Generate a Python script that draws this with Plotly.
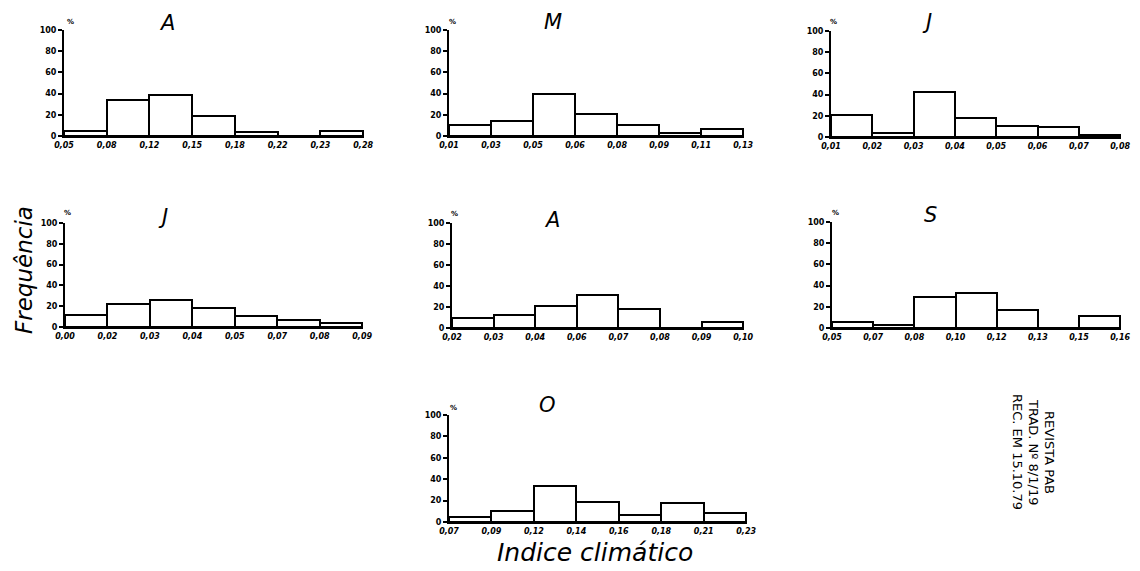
import plotly.graph_objects as go

# page has an 8px body margin: draw on a slightly smaller canvas and offset
OFF = 8
W, H = 1140 - OFF, 571 - OFF

# ---- data (frequency %, per class of the climatic index) ----
month_titles = ["A", "M", "J", "J", "A", "S", "O"]

abr_edges = ["0,05", "0,08", "0,12", "0,15", "0,18", "0,22", "0,23", "0,28"]
abr_freq = [5, 34, 39, 19, 4, 0, 5]

mai_edges = ["0,01", "0,03", "0,05", "0,06", "0,08", "0,09", "0,11", "0,13"]
mai_freq = [10, 14, 40, 21, 10, 3, 7]

jun_edges = ["0,01", "0,02", "0,03", "0,04", "0,05", "0,06", "0,07", "0,08"]
jun_freq = [21, 4, 42, 18, 10, 9, 2]

jul_edges = ["0,00", "0,02", "0,03", "0,04", "0,05", "0,07", "0,08", "0,09"]
jul_freq = [12, 22, 26, 18, 11, 7, 4]

ago_edges = ["0,02", "0,03", "0,04", "0,06", "0,07", "0,08", "0,09", "0,10"]
ago_freq = [10, 12, 21, 31, 18, 0, 6]

set_edges = ["0,05", "0,07", "0,08", "0,10", "0,12", "0,13", "0,15", "0,16"]
set_freq = [6, 3, 29, 33, 17, 0, 11]

out_edges = ["0,07", "0,09", "0,12", "0,14", "0,16", "0,18", "0,21", "0,23"]
out_freq = [5, 10, 34, 19, 7, 18, 8]

y_ticks = [0, 20, 40, 60, 80, 100]

panels_edges = [abr_edges, mai_edges, jun_edges, jul_edges, ago_edges, set_edges, out_edges]
panels_freq = [abr_freq, mai_freq, jun_freq, jul_freq, ago_freq, set_freq, out_freq]

# ---- layout geometry in screen pixels (left, right, top(100%), bottom(0%)) ----
boxes = [
    (64, 364, 30, 136),
    (449, 744, 30, 136),
    (831, 1121, 31, 137),
    (65, 363, 223, 327),
    (452, 744, 223, 328),
    (832, 1121, 222, 328),
    (449, 747, 415, 522),
]
title_pos = [(167, 23), (553, 22), (927, 22), (163, 217), (552, 220), (930, 215), (547, 405)]
pct_pos = [(70, 22), (452, 22), (833, 22), (67, 213), (455, 214), (835, 213), (453, 408)]


def fx(px):
    return (px - OFF) / W


def fy(py):
    return 1 - (py - OFF) / H


FONT = "DejaVu Sans"

fig = go.Figure()
layout = {}
annotations = []

for i, (edges, freq) in enumerate(zip(panels_edges, panels_freq), start=1):
    l, r, t, b = boxes[i - 1]
    xa = "x" if i == 1 else f"x{i}"
    ya = "y" if i == 1 else f"y{i}"
    n = len(freq)
    fig.add_trace(go.Bar(
        x=[k + 0.5 for k in range(n)], y=freq, width=1,
        marker=dict(color="white", line=dict(color="black", width=2)),
        xaxis=xa, yaxis=ya, showlegend=False, hoverinfo="skip",
    ))
    layout["xaxis" if i == 1 else f"xaxis{i}"] = dict(
        domain=[fx(l), fx(r)], anchor=ya, range=[0, n + 0.02], automargin=False,
        tickvals=list(range(len(edges))), ticktext=edges,
        showline=True, linewidth=2, linecolor="black",
        ticks="", showgrid=False, zeroline=False, fixedrange=True,
        tickfont=dict(family=FONT, size=8, color="black", weight="bold", style="italic"),
    )
    layout["yaxis" if i == 1 else f"yaxis{i}"] = dict(
        domain=[fy(b), fy(t)], anchor=xa, range=[0, 100], automargin=False,
        tickvals=y_ticks, ticktext=[str(v) for v in y_ticks],
        showline=True, linewidth=2, linecolor="black",
        ticks="outside", ticklen=4, tickwidth=1.5, tickcolor="black",
        showgrid=False, zeroline=False, fixedrange=True,
        tickfont=dict(family=FONT, size=8, color="black", weight="bold"),
    )
    tx, ty = title_pos[i - 1]
    annotations.append(dict(
        x=fx(tx), y=fy(ty), xref="paper", yref="paper", text=month_titles[i - 1],
        showarrow=False, xanchor="center", yanchor="middle",
        font=dict(family=FONT, size=21, color="black", style="italic"),
    ))
    px, py = pct_pos[i - 1]
    annotations.append(dict(
        x=fx(px), y=fy(py), xref="paper", yref="paper", text="%",
        showarrow=False, xanchor="center", yanchor="middle",
        font=dict(family=FONT, size=7, color="black", weight="bold"),
    ))

annotations.append(dict(
    x=fx(24), y=fy(270), xref="paper", yref="paper", text="Frequência",
    showarrow=False, textangle=-90, xanchor="center", yanchor="middle",
    font=dict(family=FONT, size=23, color="black", style="italic"),
))
annotations.append(dict(
    x=fx(595), y=fy(552), xref="paper", yref="paper", text="Indice climático",
    showarrow=False, xanchor="center", yanchor="middle",
    font=dict(family=FONT, size=25, color="black", style="italic"),
))
stamp = [("REVISTA PAB", 1050, 452), ("TRAD. Nº 8/1/19", 1034, 452), ("REC. EM 15.10.79", 1018, 452)]
for txt, sx, sy in stamp:
    annotations.append(dict(
        x=fx(sx), y=fy(sy), xref="paper", yref="paper", text=txt,
        showarrow=False, textangle=90, xanchor="center", yanchor="middle",
        font=dict(family=FONT, size=13, color="black"),
    ))

layout.update(
    width=W, height=H, margin=dict(l=0, r=0, t=0, b=0),
    paper_bgcolor="white", plot_bgcolor="white",
    annotations=annotations, bargap=0,
)
fig.update_layout(**layout)
fig.write_html("out.html")
